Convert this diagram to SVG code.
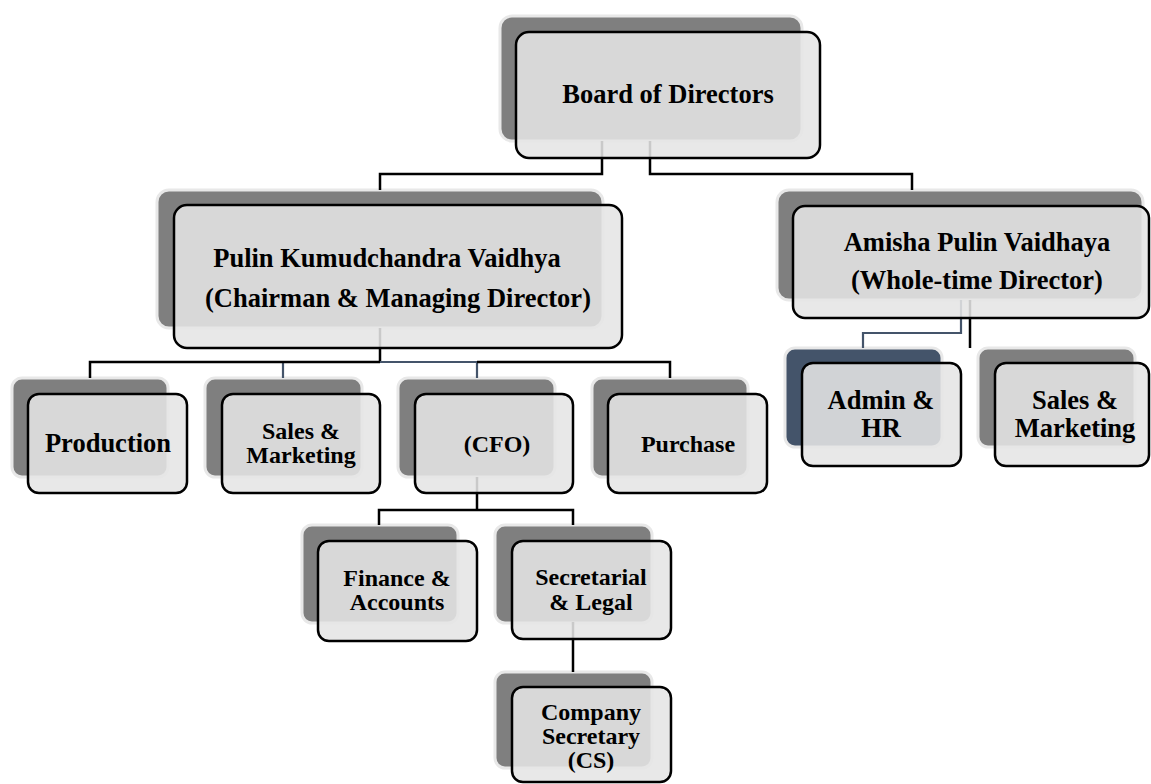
<svg xmlns="http://www.w3.org/2000/svg" width="1151" height="784" viewBox="0 0 1151 784">
<style>
.bk{fill:#7f7f7f;stroke:#e8e8e8;stroke-width:3}
.bkb{fill:#44546a;stroke:#e8e8e8;stroke-width:3}
.fr{fill:#e5e5e5;fill-opacity:0.88;stroke:#000;stroke-width:2.5}
.cb{fill:none;stroke:#000;stroke-width:2.5}
.cg{fill:none;stroke:#44546a;stroke-width:2.2}
text{font-family:"Liberation Serif","Times New Roman",serif;font-weight:bold;fill:#000;text-anchor:middle}
.l{font-size:26.5px}
.s{font-size:24px}
</style>
<rect width="1151" height="784" fill="#fff"/>
<g id="backs">
<rect class="bk" x="500" y="16" width="302" height="125" rx="12"/>
<rect class="bk" x="157" y="190" width="446" height="138" rx="12"/>
<rect class="bk" x="777" y="190" width="366" height="110" rx="12"/>
<rect class="bk" x="12" y="378" width="156" height="99" rx="10"/>
<rect class="bk" x="205" y="378" width="157" height="99" rx="10"/>
<rect class="bk" x="398" y="378" width="157" height="99" rx="10"/>
<rect class="bk" x="592" y="378" width="156" height="99" rx="10"/>
<rect class="bkb" x="785" y="348" width="157" height="99" rx="10"/>
<rect class="bk" x="978" y="348" width="157" height="99" rx="10"/>
<rect class="bk" x="302" y="525" width="156" height="98" rx="10"/>
<rect class="bk" x="495" y="525" width="157" height="98" rx="10"/>
<rect class="bk" x="495" y="672" width="157" height="96" rx="10"/>
</g>
<g id="connectors">
<polyline class="cb" points="602,141 602,174 380,174 380,190"/>
<polyline class="cb" points="650,141 650,174 912,174 912,190"/>
<polyline class="cb" points="380,328 380,362"/>
<polyline class="cg" points="283,378 283,362 380,362 477,362 477,378"/>
<polyline class="cb" points="90,378 90,362 380,362"/>
<polyline class="cb" points="477,362 670,362 670,378"/>
<polyline class="cb" points="477,477 477,510"/>
<polyline class="cb" points="379,525 379,510 573,510 573,525"/>
<polyline class="cb" points="573,622 573,672"/>
<polyline class="cg" points="961,300 961,333 863,333 863,348"/>
<polyline class="cb" points="970,300 970,348"/>
</g>
<g id="board"><rect class="fr" x="516" y="32" width="304" height="126" rx="13"/><text class="l" x="668" y="103">Board of Directors</text></g>
<g id="pulin"><rect class="fr" x="174" y="205" width="448" height="143" rx="13"/><text class="l" x="387" y="267">Pulin Kumudchandra Vaidhya</text><text class="l" x="398" y="307">(Chairman &amp; Managing Director)</text></g>
<g id="amisha"><rect class="fr" x="793" y="206" width="356" height="112" rx="12"/><text class="l" x="977" y="251">Amisha Pulin Vaidhaya</text><text class="l" x="977" y="289">(Whole-time Director)</text></g>
<g id="production"><rect class="fr" x="28" y="394" width="159" height="99" rx="11"/><text class="l" x="108" y="452">Production</text></g>
<g id="sales1"><rect class="fr" x="222" y="394" width="158" height="99" rx="11"/><text class="s" x="301" y="439">Sales &amp;</text><text class="s" x="301" y="463">Marketing</text></g>
<g id="cfo"><rect class="fr" x="415" y="394" width="158" height="99" rx="11"/><text class="s" x="497" y="452">(CFO)</text></g>
<g id="purchase"><rect class="fr" x="608" y="394" width="159" height="99" rx="11"/><text class="s" x="688" y="452">Purchase</text></g>
<g id="admin"><rect class="fr" x="802" y="363" width="159" height="103" rx="11"/><text class="l" x="881" y="409">Admin &amp;</text><text class="l" x="881" y="437">HR</text></g>
<g id="sales2"><rect class="fr" x="995" y="363" width="154" height="103" rx="11"/><text class="l" x="1075" y="409">Sales &amp;</text><text class="l" x="1075" y="437">Marketing</text></g>
<g id="finance"><rect class="fr" x="318" y="541" width="159" height="100" rx="11"/><text class="s" x="397" y="586">Finance &amp;</text><text class="s" x="397" y="610">Accounts</text></g>
<g id="secretarial"><rect class="fr" x="512" y="541" width="159" height="98" rx="11"/><text class="s" x="591" y="585">Secretarial</text><text class="s" x="591" y="610">&amp; Legal</text></g>
<g id="cs"><rect class="fr" x="512" y="687" width="159" height="95" rx="11"/><text class="s" x="591" y="720">Company</text><text class="s" x="591" y="744">Secretary</text><text class="s" x="591" y="768">(CS)</text></g>
</svg>
